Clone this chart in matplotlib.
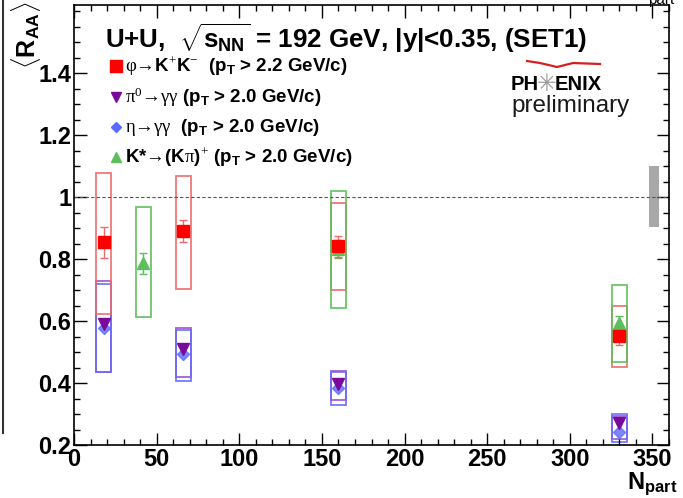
import matplotlib
matplotlib.use("Agg")
import matplotlib.pyplot as plt
from matplotlib.patches import Rectangle
from matplotlib.lines import Line2D
from matplotlib.ticker import MultipleLocator

plt.rcParams['font.family'] = ['Liberation Sans', 'DejaVu Sans']
plt.rcParams['mathtext.fontset'] = 'custom'
plt.rcParams['mathtext.rm'] = 'Liberation Serif'
plt.rcParams['mathtext.it'] = 'Liberation Sans:bold'
plt.rcParams['mathtext.bf'] = 'Liberation Sans:bold'

# phi -> K+K-
npart_phi = [18, 66, 160, 330]
raa_phi = [0.855, 0.89, 0.842, 0.552]
stat_phi = [0.05, 0.036, 0.034, 0.03]
syslo_phi = [0.623, 0.703, 0.700, 0.452]
syshi_phi = [1.077, 1.068, 0.980, 0.648]

# pi0 -> gg
npart_pi0 = [18, 66, 160, 330]
raa_pi0 = [0.59, 0.51, 0.397, 0.27]
syslo_pi0 = [0.435, 0.42, 0.345, 0.219]
syshi_pi0 = [0.729, 0.577, 0.439, 0.294]

# eta -> gg
npart_eta = [18, 66, 160, 330]
raa_eta = [0.577, 0.494, 0.384, 0.242]
syslo_eta = [0.435, 0.407, 0.329, 0.21]
syshi_eta = [0.719, 0.572, 0.435, 0.30]

# K* -> (K pi)+
npart_ks = [42, 160, 330]
raa_ks = [0.787, 0.832, 0.593]
stat_ks = [0.034, 0.03, 0.022]
syslo_ks = [0.613, 0.642, 0.468]
syshi_ks = [0.968, 1.019, 0.716]

# global scale uncertainty
glob_lo, glob_hi = 0.905, 1.10

c_red, c_redbox = '#ff0000', '#ee6a6a'
c_pur, c_purbox = '#7a0a9a', '#9a50d0'
c_blu, c_blubox = '#5a6aff', '#6a6aff'
c_grn, c_grnbox = '#5cbf5c', '#5cbf5c'

fig = plt.figure(figsize=(6.83, 4.98), dpi=100)
ax = fig.add_axes([74/683, 1-445/498, (669-74)/683, (445-5)/498])
ax.set_xlim(0, 360)
ax.set_ylim(0.2, 1.62)

ax.axhline(1.0, color='#555555', lw=0.8, ls=(0, (3, 2)))

def boxes(x, lo, hi, col, hw=4.5):
    for xi, l, h in zip(x, lo, hi):
        ax.add_patch(Rectangle((xi-hw, l), 2*hw, h-l, fill=False,
                               ec=col, lw=1.3, alpha=0.9))

boxes(npart_pi0, syslo_pi0, syshi_pi0, c_purbox)
boxes(npart_eta, syslo_eta, syshi_eta, c_blubox)
boxes(npart_phi, syslo_phi, syshi_phi, c_redbox)
boxes(npart_ks, syslo_ks, syshi_ks, c_grnbox)

ax.add_patch(Rectangle((348, glob_lo), 6, glob_hi-glob_lo, color='#a8a8a8', lw=0))

ax.plot(npart_eta, raa_eta, 'D', color=c_blu, ms=6, alpha=0.8)
ax.plot(npart_pi0, raa_pi0, 'v', color=c_pur, ms=9)
ax.errorbar(npart_ks, raa_ks, yerr=stat_ks, fmt='^', color=c_grn, ms=9,
            ecolor=c_grn, elinewidth=1, capsize=3)
ax.errorbar(npart_phi, raa_phi, yerr=stat_phi, fmt='s', color=c_red, ms=9,
            ecolor=c_redbox, elinewidth=1, capsize=3)

ax.xaxis.set_major_locator(MultipleLocator(50))
ax.xaxis.set_minor_locator(MultipleLocator(10))
ax.yaxis.set_major_locator(MultipleLocator(0.2))
ax.yaxis.set_minor_locator(MultipleLocator(0.05))
ax.tick_params(which='both', direction='in', top=True, right=True, width=1)
ax.tick_params(which='major', length=9)
ax.tick_params(which='minor', length=4.5)
ax.tick_params(axis='y', pad=2)
ax.tick_params(axis='x', pad=2)
ax.set_xticks([0, 50, 100, 150, 200, 250, 300, 350])
ax.set_xticklabels(['0', '50', '100', '150', '200', '250', '300', '350'],
                   fontsize=17, fontweight='bold')
ax.set_yticks([0.2, 0.4, 0.6, 0.8, 1.0, 1.2, 1.4])
ax.set_yticklabels(['0.2', '0.4', '0.6', '0.8', '1', '1.2', '1.4'],
                   fontsize=17, fontweight='bold')
for s in ax.spines.values():
    s.set_linewidth(1.2)

# title and legend
fig.text(105/683, 1-38/498, r"U+U,  $\sqrt{s_{NN}}$ = 192 GeV, |y|<0.35, (SET1)",
         fontsize=18.7, fontweight='bold', va='center')

leg_rows = [
    ('s', c_red, 8, r"$\mathrm{φ→}$K$^{+}$K$^{-}$  (p$_{T}$ > 2.2 GeV/c)"),
    ('v', c_pur, 7, r"$\mathrm{π^{0}→γγ}$ (p$_{T}$ > 2.0 GeV/c)"),
    ('D', c_blu, 5, r"$\mathrm{η→γγ}$  (p$_{T}$ > 2.0 GeV/c)"),
    ('^', c_grn, 7, r"K*$\mathrm{→}$(K$\mathrm{π}$)$^{+}$ (p$_{T}$ > 2.0 GeV/c)"),
]
leg_y = [66, 97, 127, 157]
for (mk, col, ms, lab), yp in zip(leg_rows, leg_y):
    fig.add_artist(Line2D([116/683], [1-yp/498], marker=mk, color=col, ms=ms, ls='none'))
    fig.text(125/683, 1-yp/498, lab, fontsize=13.5, fontweight='bold', va='center')

# PHENIX logo
arc_x = [527, 540, 557, 573, 600]
arc_y = [61, 63, 67, 63, 64]
fig.add_artist(Line2D([v/683 for v in arc_x], [1-v/498 for v in arc_y],
                      color='#d42020', lw=1.6))
fig.text(511/683, 1-84/498, "PH", fontsize=14.5, fontweight='bold', va='center')
fig.text(555/683, 1-84/498, "ENIX", fontsize=14.5, fontweight='bold', va='center')
fig.text(546.5/683, 1-84/498, "\u2733", fontsize=17, color='#9a9a9a',
         va='center', ha='center', family=['DejaVu Sans'])
fig.text(511/683, 1-106/498, "preliminary", fontsize=17.5, color='#1a1a1a', va='center')

# axis titles
fig.text(677/683, 1-489/498, r"N$_{part}$", fontsize=17, fontweight='bold',
         ha='right', va='baseline')
fig.text(26/683, 1-2/498, r"$\mathrm{\langle}$R$_{AA}$$\mathrm{\rangle}$", fontsize=18,
         fontweight='bold', rotation=90, ha='center', va='top')
fig.text(648/683, 1.0, "part", fontsize=11, va='center')
fig.add_artist(Line2D([2.5/683, 2.5/683], [1, 1-433/498], color='#333333', lw=1.5))

fig.savefig('out.png', dpi=100)
